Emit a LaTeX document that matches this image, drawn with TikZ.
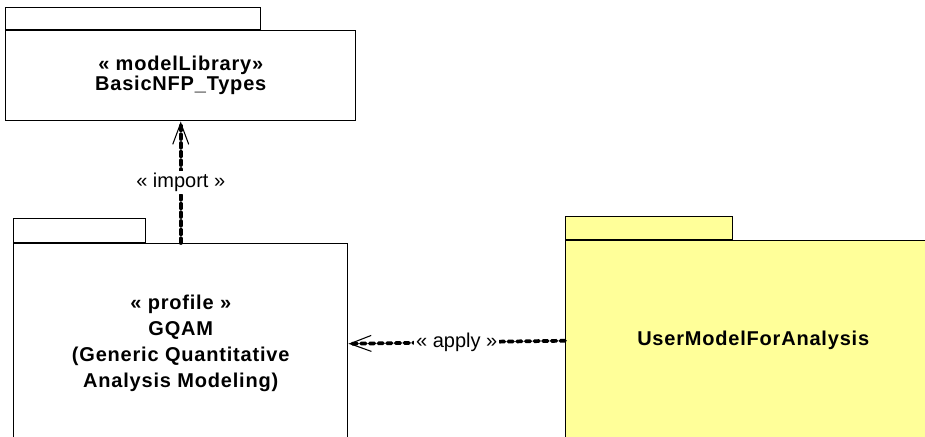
\documentclass[tikz,border=0pt]{standalone}
\usepackage{fontspec}
\setmainfont{Liberation Sans}
\newfontfamily\pkgfont{Liberation Sans}[LetterSpace=4]
\usetikzlibrary{arrows.meta}
\definecolor{pkgyellow}{HTML}{FFFF99}
\begin{document}
\begin{tikzpicture}[x=0.75pt,y=-0.75pt,
  pkgline/.style={draw=black,line width=1.1pt},
  pkgbody/.style={pkgline,inner sep=0pt,align=center,font=\pkgfont\bfseries\fontsize{15pt}{15pt}\selectfont},
  pkgtab/.style={pkgline,inner sep=0pt},
  deplink/.style={line width=2.8pt,dash pattern=on 3.5pt off 3pt,line cap=round,
    -{Straight Barb[length=16pt,width=12pt,line width=0.8pt]}},
  deplabel/.style={fill=white,inner sep=1.5pt,font=\fontsize{15pt}{18pt}\selectfont}]
\useasboundingbox (0,0) rectangle (925,436);
\clip (0,0) rectangle (925,436);
\fill[white] (0,0) rectangle (925,436);
% top package
\node[pkgtab,minimum width=255*0.75pt,minimum height=22*0.75pt,anchor=south west] (libtab) at (5,30) {};
\node[pkgbody,minimum width=350*0.75pt,minimum height=90*0.75pt,anchor=north west] (lib) at (5,30)
  {« modelLibrary»\\BasicNFP\_Types};
% GQAM package
\node[pkgtab,minimum width=132*0.75pt,minimum height=24*0.75pt,anchor=south west] (gqamtab) at (13,243) {};
\node[pkgbody,minimum width=334*0.75pt,minimum height=200*0.75pt,anchor=north west,
  font=\pkgfont\bfseries\fontsize{15pt}{19.5pt}\selectfont] (gqam) at (13,243)
  {« profile »\\GQAM\\(Generic Quantitative\\Analysis Modeling)};
% user package
\node[pkgtab,fill=pkgyellow,minimum width=167*0.75pt,minimum height=23*0.75pt,anchor=south west] (usertab) at (565,240) {};
\node[pkgbody,fill=pkgyellow,minimum width=375*0.75pt,minimum height=200*0.75pt,anchor=north west] (user) at (565,240)
  {UserModelForAnalysis};
% connectors
\draw[deplink] (gqam.north) -- node[deplabel] {« import »} (lib.south);
\draw[deplink] (user.west) -- node[deplabel] {« apply »} (gqam.east);
\end{tikzpicture}
\end{document}
